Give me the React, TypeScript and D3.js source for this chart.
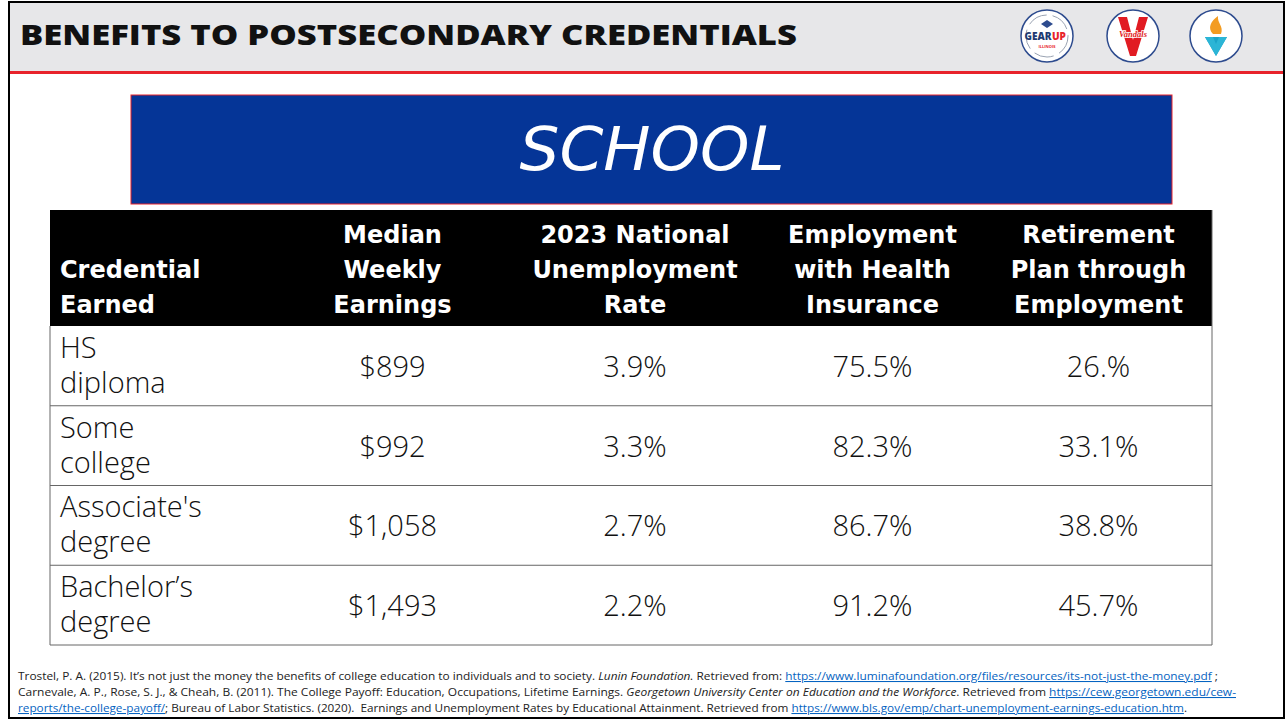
import React from 'react';
import * as d3 from 'd3';

// slide data
const title = 'BENEFITS TO POSTSECONDARY CREDENTIALS';
const bannerText = 'SCHOOL';
const headers = [
  ['Credential', 'Earned'],
  ['Median', 'Weekly', 'Earnings'],
  ['2023 National', 'Unemployment', 'Rate'],
  ['Employment', 'with Health', 'Insurance'],
  ['Retirement', 'Plan through', 'Employment'],
];
const credentials = [
  ['HS', 'diploma'],
  ['Some', 'college'],
  ["Associate's", 'degree'],
  ['Bachelor\u2019s', 'degree'],
];
const weeklyEarnings = ['$899', '$992', '$1,058', '$1,493'];
const unemployment = ['3.9%', '3.3%', '2.7%', '2.2%'];
const healthInsurance = ['75.5%', '82.3%', '86.7%', '91.2%'];
const retirementPlan = ['26.%', '33.1%', '38.8%', '45.7%'];

// footer references: [text, style] style: n = normal, i = italic, l = link
const refLine1 = [
  ['Trostel, P. A. (2015). It\u2019s not just the money the benefits of college education to individuals and to society. ', 'n'],
  ['Lunin Foundation.', 'i'],
  [' Retrieved from: ', 'n'],
  ['https://www.luminafoundation.org/files/resources/its-not-just-the-money.pdf', 'l'],
  [' ;', 'n'],
];
const refLine2 = [
  ['Carnevale, A. P., Rose, S. J., & Cheah, B. (2011). The College Payoff: Education, Occupations, Lifetime Earnings. ', 'n'],
  ['Georgetown University Center on Education and the Workforce', 'i'],
  ['. Retrieved from ', 'n'],
  ['https://cew.georgetown.edu/cew-', 'l'],
];
const refLine3 = [
  ['reports/the-college-payoff/', 'l'],
  ['; Bureau of Labor Statistics. (2020).  Earnings and Unemployment Rates by Educational Attainment. Retrieved from ', 'n'],
  ['https://www.bls.gov/emp/chart-unemployment-earnings-education.htm', 'l'],
  ['.', 'n'],
];

const W = 1286, H = 721;
const comic = '"DejaVu Sans", sans-serif';
const body = '"Open Sans", "Noto Sans", sans-serif';

export default function App() {
  const columns = [weeklyEarnings, unemployment, healthInsurance, retirementPlan];

  // table layout
  const tableLeft = 50, tableRight = 1212;
  const colEdges = [tableLeft, 275, 510, 760, 985, tableRight];
  const colX = d3.scaleOrdinal<number, number>()
    .domain(d3.range(headers.length))
    .range(colEdges.slice(0, -1).map((e, i) => (e + colEdges[i + 1]) / 2));
  const headTop = 210, headBottom = 326;
  const rowY = d3.scaleBand<string>()
    .domain(credentials.map(d => d.join(' ')))
    .range([headBottom, 645]);

  const refLines = [refLine1, refLine2, refLine3];
  const refWidths = [1200, 1218, 1169];

  return (
    <svg width={W} height={H} style={{ position: 'absolute', left: 0, top: 0, background: '#fff' }}>
      {/* header strip */}
      <rect x={9} y={2} width={1275} height={70} fill="#e7e7e9" />
      <rect x={9} y={71} width={1275} height={3} fill="#e8232b" />
      <text x={20} y={45} fontFamily={body} fontWeight={800} fontSize={29}
        textLength={777} lengthAdjust="spacingAndGlyphs" fill="#111">{title}</text>

      {/* logos */}
      <g transform="translate(1047,36)">
        <circle r={26} fill="#fff" stroke="#2d4b8e" strokeWidth={1.5} />
        <circle r={21} fill="none" stroke="#9aa3b2" strokeWidth={1} strokeDasharray="20 6" />
        <path d="M-6,-12 L0,-16 L6,-12 L0,-8 Z" fill="#2d4b8e" />
        <text x={-9} y={4} fontFamily={body} fontWeight={800} fontSize={10} fill="#1f3b72" textAnchor="middle">GEAR</text>
        <text x={12} y={4} fontFamily={body} fontWeight={800} fontSize={10} fill="#e8232b" textAnchor="middle">UP</text>
        <text y={12} fontFamily={body} fontWeight={700} fontSize={4} fill="#e8232b" textAnchor="middle">ILLINOIS</text>
      </g>
      <g transform="translate(1133,36)">
        <circle r={26} fill="#fff" stroke="#2d4b8e" strokeWidth={1.5} />
        <path d="M-15,-19 L-6,-19 L0,4 L6,-19 L15,-19 L3,20 L-3,20 Z" fill="#e11b22" />
        <text y={1} fontFamily="serif" fontStyle="italic" fontWeight={700} fontSize={8.5} fill="#e11b22" textAnchor="middle"
          stroke="#fff" strokeWidth={1.5} paintOrder="stroke">Vandals</text>
      </g>
      <g transform="translate(1216,36)">
        <circle r={26} fill="#fff" stroke="#2d4b8e" strokeWidth={1.5} />
        <path d="M-3,-2 C-9,-8 -5,-15 2,-20 C1,-13 8,-10 5,-2 Z" fill="#f39c22" />
        <path d="M-11,1 L11,1 L0,20 Z" fill="#1aa3c8" />
        <path d="M-11,1 L-3,1 L0,8 L3,1 L11,1 L0,20 Z" fill="#2bb5d6" />
      </g>

      {/* banner */}
      <rect x={131} y={95} width={1041} height={109} fill="#053597" stroke="#e8232b" strokeWidth={1} />
      <text x={652} y={170} fontFamily={comic} fontStyle="italic" fontSize={60} fill="#fff"
        textAnchor="middle" textLength={265} lengthAdjust="spacingAndGlyphs">{bannerText}</text>

      {/* table header */}
      <rect x={tableLeft} y={headTop} width={tableRight - tableLeft} height={headBottom - headTop} fill="#000" />
      {headers.map((lines, c) => (
        <text key={c} fontFamily={comic} fontWeight={700} fontSize={24} fill="#fff"
          textAnchor={c === 0 ? 'start' : 'middle'}>
          {lines.map((ln, k) => (
            <tspan key={k} x={c === 0 ? 60 : colX(c)} y={313 - (lines.length - 1 - k) * 35}>{ln}</tspan>
          ))}
        </text>
      ))}

      {/* table body */}
      {credentials.map((cred, r) => {
        const key = cred.join(' ');
        const y0 = rowY(key) as number;
        const mid = y0 + rowY.bandwidth() / 2;
        return (
          <g key={key}>
            <line x1={tableLeft} x2={tableRight} y1={y0 + rowY.bandwidth()} y2={y0 + rowY.bandwidth()} stroke="#666" strokeWidth={1} />
            <text x={60} y={mid - 8} fontFamily={body} fontWeight={300} fontSize={29} fill="#111">{cred[0]}</text>
            <text x={60} y={mid + 27} fontFamily={body} fontWeight={300} fontSize={29} fill="#111">{cred[1]}</text>
            {columns.map((col, c) => (
              <text key={c} x={colX(c + 1)} y={mid + 11} fontFamily={body} fontWeight={300} fontSize={29}
                fill="#111" textAnchor="middle">{col[r]}</text>
            ))}
          </g>
        );
      })}
      <line x1={tableLeft} x2={tableLeft} y1={headBottom} y2={645} stroke="#666" strokeWidth={1} />
      <line x1={tableRight} x2={tableRight} y1={headTop} y2={645} stroke="#666" strokeWidth={1} />

      {/* references */}
      {refLines.map((parts, i) => (
        <text key={i} x={18} y={680 + i * 16} fontFamily={body} fontSize={10.5} fill="#222"
          textLength={refWidths[i]} lengthAdjust="spacingAndGlyphs" style={{ whiteSpace: 'pre' }}>
          {parts.map(([t, s], k) => (
            <tspan key={k} fontStyle={s === 'i' ? 'italic' : 'normal'}
              fill={s === 'l' ? '#0563c1' : '#222'}
              textDecoration={s === 'l' ? 'underline' : 'none'}>{t}</tspan>
          ))}
        </text>
      ))}

      {/* outer frame */}
      <rect x={9} y={2} width={1275} height={716} fill="none" stroke="#000" strokeWidth={2} />
    </svg>
  );
}
